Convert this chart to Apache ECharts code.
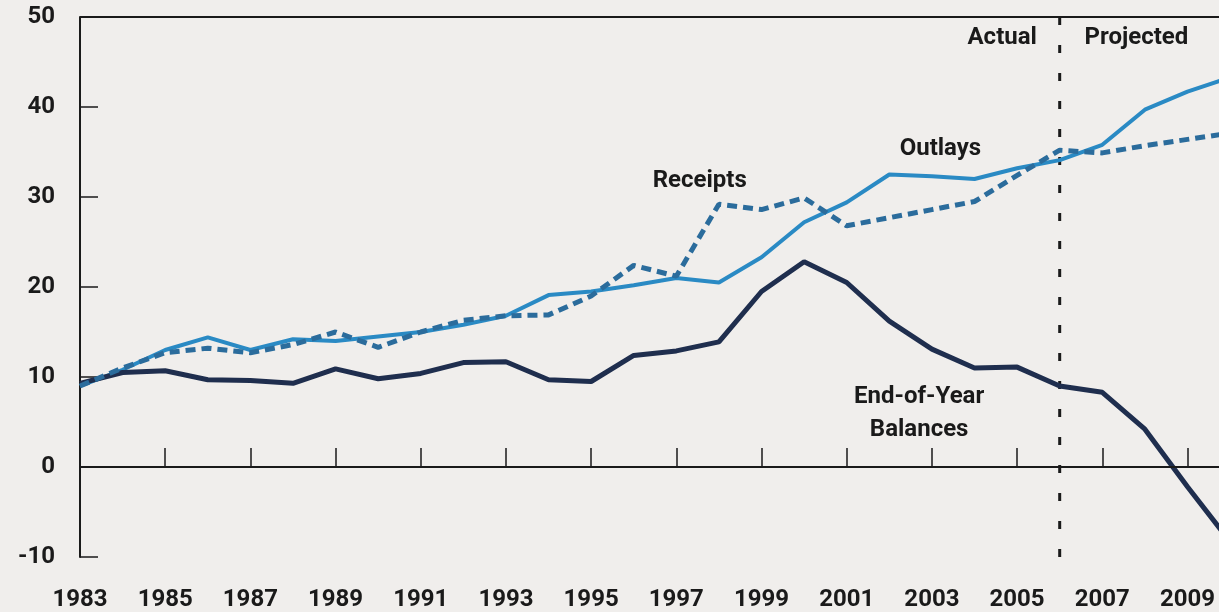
<!DOCTYPE html>
<html>
<head>
<meta charset="utf-8">
<script src="https://cdn.jsdelivr.net/npm/echarts@6/dist/echarts.min.js"></script>
<style>
html,body{margin:0;padding:0;background:#f0eeec;}
#c{width:1219px;height:612px;}
</style>
</head>
<body>
<div id="c"></div>
<script>
var years = [1983,1984,1985,1986,1987,1988,1989,1990,1991,1992,1993,1994,1995,1996,1997,1998,1999,2000,2001,2002,2003,2004,2005,2006,2007,2008,2009,2010];
var outlays = [9.0,10.8,13.0,14.4,13.0,14.2,14.0,14.5,15.0,15.8,16.8,19.1,19.5,20.2,21.0,20.5,23.3,27.2,29.4,32.5,32.3,32.0,33.2,34.1,35.8,39.7,41.7,43.3];
var receipts = [9.0,11.0,12.7,13.2,12.7,13.6,15.0,13.3,15.0,16.3,16.8,16.9,19.0,22.4,21.2,29.2,28.6,29.9,26.8,27.7,28.6,29.5,32.4,35.2,34.9,35.7,36.4,37.1];
var balances = [9.3,10.5,10.7,9.7,9.6,9.3,10.9,9.8,10.4,11.6,11.7,9.7,9.5,12.4,12.9,13.9,19.5,22.8,20.5,16.2,13.1,11.0,11.1,9.0,8.3,4.2,-2.2,-8.3];
var xTickValues = [1985,1987,1989,1991,1993,1995,1997,1999,2001,2003,2005,2007,2009];
var xLabelValues = [1983,1985,1987,1989,1991,1993,1995,1997,1999,2001,2003,2005,2007,2009];
var dividerYear = 2006;
var annotations = [
  {text:'Receipts', x:1997.55, y:31.8},
  {text:'Outlays', x:2003.2, y:35.3},
  {text:'End-of-Year\nBalances', x:2002.7, y:6.0},
  {text:'Actual', x:2004.65, y:47.7},
  {text:'Projected', x:2007.8, y:47.7}
];

function pairs(vals){ return years.map(function(y,i){ return [y, vals[i]]; }); }

var FONT = 'Roboto';
var chart = echarts.init(document.getElementById('c'), null, {renderer:'canvas'});
chart.setOption({
  backgroundColor:'#f0eeec',
  animation:false,
  grid:{left:80, top:17, bottom:55, right:0, show:false},
  xAxis:{
    type:'value', min:1983, max:2009.74,
    axisLine:{show:true, lineStyle:{color:'#1a1a1a', width:2}},
    axisTick:{show:true, inside:true, length:19, customValues:xTickValues, lineStyle:{color:'#1a1a1a', width:1.5}},
    axisLabel:{customValues:xLabelValues, margin:31, color:'#1a1a1a', fontFamily:FONT, fontWeight:'bold', fontSize:24, formatter:function(v){return String(v);}},
    splitLine:{show:false}
  },
  yAxis:{
    type:'value', min:-10, max:50, interval:10,
    axisLine:{show:true, lineStyle:{color:'#1a1a1a', width:2}},
    axisTick:{show:true, inside:true, length:18, lineStyle:{color:'#1a1a1a', width:1.5}},
    axisLabel:{margin:25, color:'#1a1a1a', fontFamily:FONT, fontWeight:'bold', fontSize:24},
    splitLine:{show:false}
  },
  series:[
    {
      name:'divider', type:'line', symbol:'none', z:2, silent:true,
      data:[[dividerYear,-10],[dividerYear,50]],
      lineStyle:{color:'#1a1a1a', width:3, type:[8,20]},
      markLine:{
        silent:true, symbol:'none', label:{show:false},
        data:[
          {yAxis:0, lineStyle:{color:'#1a1a1a', width:2, type:'solid'}},
          {yAxis:50, lineStyle:{color:'#1a1a1a', width:2, type:'solid'}}
        ]
      }
    },
    {
      name:'Outlays', type:'line', data:pairs(outlays), symbol:'none', z:3,
      lineStyle:{color:'#2a8ac4', width:4}
    },
    {
      name:'Receipts', type:'line', data:pairs(receipts), symbol:'none', z:4,
      lineStyle:{color:'#2b6c9c', width:5, type:[10,6]}
    },
    {
      name:'Balances', type:'line', data:pairs(balances), symbol:'none', z:3,
      lineStyle:{color:'#1f2e4e', width:5}
    },
    {
      name:'labels', type:'scatter', symbolSize:0, z:6, silent:true,
      itemStyle:{opacity:1},
      data:annotations.map(function(a){ return {value:[a.x,a.y], label:{formatter:a.text}}; }),
      label:{show:true, position:'inside', color:'#1a1a1a', fontFamily:FONT, fontWeight:'bold', fontSize:24, lineHeight:33, align:'center', verticalAlign:'middle'}
    }
  ]
});
</script>
</body>
</html>
